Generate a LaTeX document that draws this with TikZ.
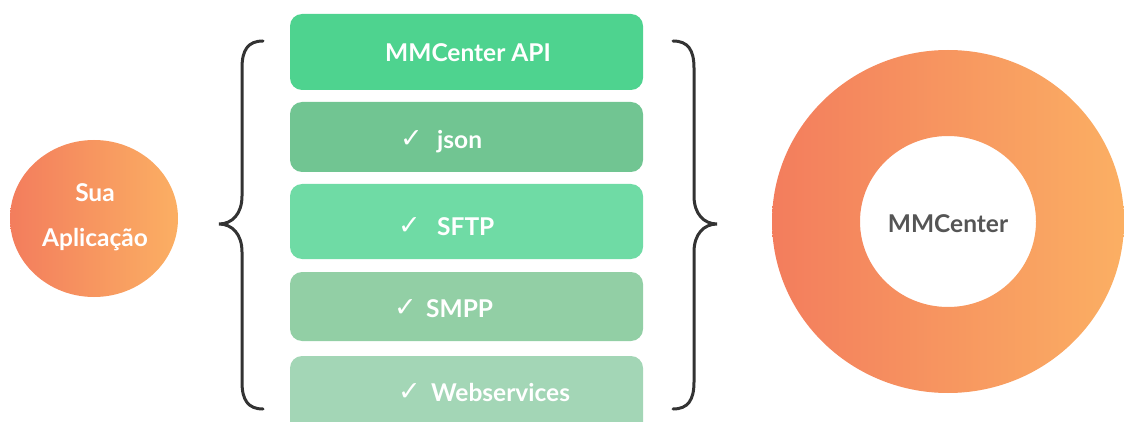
\documentclass[tikz,border=0pt]{standalone}
\usepackage{fontspec}
\setmainfont{Lato}[BoldFont={Lato Bold}]
\newfontfamily\symfont{DejaVu Sans}
\definecolor{orL}{RGB}{243,125,93}
\definecolor{orR}{RGB}{251,175,99}
\definecolor{gA}{RGB}{78,211,143}
\definecolor{gB}{RGB}{113,197,146}
\definecolor{gC}{RGB}{111,219,165}
\definecolor{gD}{RGB}{146,207,165}
\definecolor{gE}{RGB}{163,214,182}
\definecolor{brace}{RGB}{51,51,51}
\definecolor{txtgray}{RGB}{85,85,85}
\begin{document}
\begin{tikzpicture}[x=1pt,y=-1pt,
  layer/.style={rounded corners=12pt, minimum width=353pt, inner sep=0pt, draw=none},
  lbl/.style={font=\fontsize{24.5}{28}\selectfont\bfseries, text=white, inner sep=0pt, anchor=base west},
  chk/.style={font=\fontsize{27}{30}\selectfont\symfont, text=white, inner sep=0pt, anchor=base west},
  bracepath/.style={draw=brace, line width=3pt, line cap=round}]
\useasboundingbox (0,0) rectangle (1124,422);
\begin{scope}
\clip (0,0) rectangle (1124,422);
% layers
\node[layer, fill=gA, minimum height=76pt] (api) at (466.5,52) {};
\node[layer, fill=gB, minimum height=70pt] (json) at (466.5,137) {};
\node[layer, fill=gC, minimum height=75pt] (sftp) at (466.5,221.5) {};
\node[layer, fill=gD, minimum height=69pt] (smpp) at (466.5,306.5) {};
\node[layer, fill=gE, minimum height=90pt] (ws) at (466.5,401) {};
% labels
\node[lbl, anchor=base] (tapi) at (468,62) {MMCenter API};
\node[chk] (c1) at (400,148) {✓};
\node[lbl] (t1) at (437,149) {json};
\node[chk] (c2) at (398,234) {✓};
\node[lbl] (t2) at (437,235) {SFTP};
\node[chk] (c3) at (394,316) {✓};
\node[lbl] (t3) at (426,317) {SMPP};
\node[chk] (c4) at (398,400) {✓};
\node[lbl] (t4) at (431,401) {Webservices};
% left circle
\shade[left color=orL, right color=orR] (94,218.5) ellipse [x radius=84, y radius=78.5];
\node[circle, minimum size=150pt, inner sep=0pt] (app) at (94,218.5) {};
\node[lbl, anchor=base] (ta1) at (95,201) {Sua};
\node[lbl, anchor=base] (ta2) at (95,246) {Aplicação};
% ring
\shade[left color=orL, right color=orR, even odd rule] (948,221.5) ellipse [x radius=176, y radius=171.5] (948,221.5) ellipse [x radius=88, y radius=85.5];
\node[circle, minimum size=170pt, inner sep=0pt] (mm) at (948,221.5) {};
\node[lbl, anchor=base, text=txtgray] (tmm) at (948,233) {MMCenter};
% braces
\draw[bracepath] (263,41) .. controls (248,41) and (242,50) .. (242,68) -- (242,196) .. controls (242,214) and (232,224) .. (219,224) .. controls (232,224) and (242,234) .. (242,252) -- (242,382) .. controls (242,400) and (248,409) .. (263,409);
\draw[bracepath] (673,41) .. controls (688,41) and (694,50) .. (694,68) -- (694,196) .. controls (694,214) and (704,224) .. (717,224) .. controls (704,224) and (694,234) .. (694,252) -- (694,382) .. controls (694,400) and (688,409) .. (673,409);
\end{scope}
\end{tikzpicture}
\end{document}
